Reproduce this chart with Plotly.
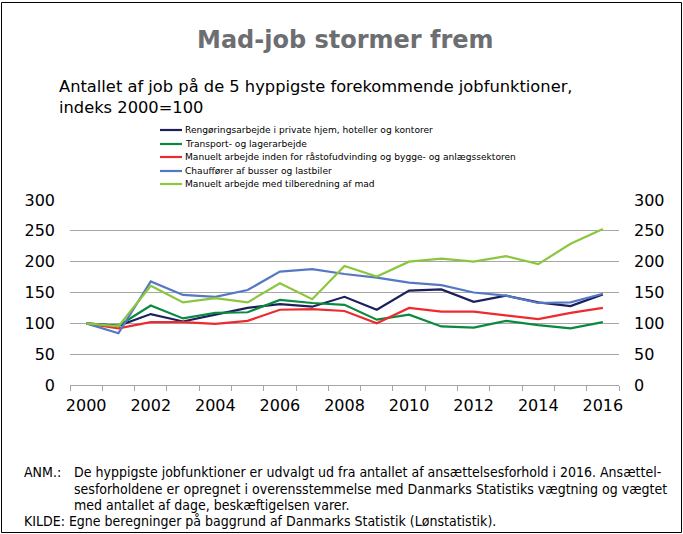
import plotly.graph_objects as go

W, H = 683, 534

years = list(range(2000, 2017))

rengoering = [100, 96, 115, 103, 114, 125, 131, 127, 143, 122, 153, 155, 135, 145, 134, 128, 147]
transport = [100, 96, 129, 108, 117, 118, 138, 133, 130, 106, 114, 95, 93, 104, 97, 92, 102]
raastof = [100, 92, 102, 102, 99, 104, 122, 123, 120, 100, 125, 119, 119, 113, 107, 117, 125]
chauffoer = [100, 84, 168, 146, 143, 154, 184, 188, 180, 174, 166, 162, 150, 145, 133, 134, 148]
mad = [100, 95, 161, 134, 141, 134, 165, 139, 193, 176, 200, 205, 200, 209, 196, 229, 253]

series_names = [
    "Rengøringsarbejde i private hjem, hoteller og kontorer",
    "Transport- og lagerarbejde",
    "Manuelt arbejde inden for råstofudvinding og bygge- og anlægssektoren",
    "Chauffører af busser og lastbiler",
    "Manuelt arbejde med tilberedning af mad",
]
series_values = [rengoering, transport, raastof, chauffoer, mad]
series_colors = ["#1b1f5e", "#0a8a3e", "#ee2a2e", "#5578c4", "#8cc63f"]

ytick_vals = [0, 50, 100, 150, 200, 250, 300]
xtick_vals = list(range(2000, 2017, 2))

note_lines = [
    "De hyppigste jobfunktioner er udvalgt ud fra antallet af ansættelsesforhold i 2016. Ansættel-",
    "sesforholdene er opregnet i overensstemmelse med Danmarks Statistiks vægtning og vægtet",
    "med antallet af dage, beskæftigelsen varer.",
]
source_text = "KILDE: Egne beregninger på baggrund af Danmarks Statistik (Lønstatistik)."

FONT = "DejaVu Sans"


def px_x(x):
    return x / W


def px_y(y):
    return 1 - y / H


fig = go.Figure()

for name, vals, col in zip(series_names, series_values, series_colors):
    fig.add_trace(go.Scatter(x=years, y=vals, name=name, mode="lines",
                             line=dict(color=col, width=2.2), showlegend=False))

# invisible trace so the right-hand axis is drawn
fig.add_trace(go.Scatter(x=years, y=mad, yaxis="y2", mode="lines",
                         line=dict(color="rgba(0,0,0,0)"), showlegend=False,
                         hoverinfo="skip"))

x0, x1 = 70, 619
y_top, y_bot = 200, 385

fig.update_layout(
    template="none",
    width=W, height=H,
    margin=dict(l=0, r=0, t=0, b=0),
    paper_bgcolor="white", plot_bgcolor="white",
    font=dict(family=FONT, color="black"),
    xaxis=dict(
        domain=[px_x(x0), px_x(x1)],
        range=[1999.5, 2016.5],
        tickvals=xtick_vals, ticks="", showgrid=False, zeroline=False,
        showline=True, linecolor="#a6a6a6", linewidth=1,
        tickfont=dict(size=16, family=FONT), automargin=False,
        ticklabelstandoff=6,
        minor=dict(tick0=1999.5, dtick=1, ticks="outside", ticklen=5,
                   tickcolor="#a6a6a6", showgrid=False),
    ),
    yaxis=dict(
        domain=[px_y(y_bot), px_y(y_top)],
        range=[0, 300], tickvals=ytick_vals, ticks="",
        showgrid=True, gridcolor="#a6a6a6", gridwidth=1, zeroline=False,
        tickfont=dict(size=16, family=FONT), automargin=False,
        ticklabelstandoff=14,
    ),
    yaxis2=dict(
        domain=[px_y(y_bot), px_y(y_top)],
        overlaying="y", side="right", anchor="x",
        range=[0, 300], tickvals=ytick_vals, ticks="",
        showgrid=False, zeroline=False,
        tickfont=dict(size=16, family=FONT), automargin=False,
        ticklabelstandoff=14,
    ),
)

# outer frame
fig.add_shape(type="rect", xref="paper", yref="paper",
              x0=px_x(1.5), x1=px_x(681.5), y0=px_y(532.5), y1=px_y(2.5),
              line=dict(color="black", width=1))

# title and subtitle
fig.add_annotation(text="<b>Mad-job stormer frem</b>", xref="paper", yref="paper",
                   x=px_x(345), y=px_y(40), xanchor="center", yanchor="middle",
                   showarrow=False,
                   font=dict(size=24, color="#6d6e71", family=FONT))
fig.add_annotation(text="Antallet af job på de 5 hyppigste forekommende jobfunktioner,<br>indeks 2000=100",
                   xref="paper", yref="paper", x=px_x(57), y=px_y(97),
                   xanchor="left", yanchor="middle", align="left", showarrow=False,
                   font=dict(size=16.3, family=FONT))

# legend (drawn by hand to keep it compact)
leg_y = [130, 144, 157, 171, 184]
for name, col, ly in zip(series_names, series_colors, leg_y):
    fig.add_shape(type="line", xref="paper", yref="paper",
                  x0=px_x(160), x1=px_x(182), y0=px_y(ly), y1=px_y(ly),
                  line=dict(color=col, width=2.2))
    fig.add_annotation(text=name, xref="paper", yref="paper",
                       x=px_x(183), y=px_y(ly), xanchor="left", yanchor="middle",
                       showarrow=False, font=dict(size=9.1, family=FONT))

# notes
note_font = dict(size=14, family="DejaVu Sans Condensed")
fig.add_annotation(text="ANM.:", xref="paper", yref="paper", x=px_x(22), y=px_y(472),
                   xanchor="left", yanchor="middle", showarrow=False, font=note_font)
for line, ny in zip(note_lines, [472, 489, 505]):
    fig.add_annotation(text=line, xref="paper", yref="paper", x=px_x(72), y=px_y(ny),
                       xanchor="left", yanchor="middle", showarrow=False, font=note_font)
fig.add_annotation(text=source_text, xref="paper", yref="paper", x=px_x(22), y=px_y(521),
                   xanchor="left", yanchor="middle", showarrow=False, font=note_font)

fig.write_html("out.html", config={"displayModeBar": False},
               post_script="document.body.style.margin='0px';")
